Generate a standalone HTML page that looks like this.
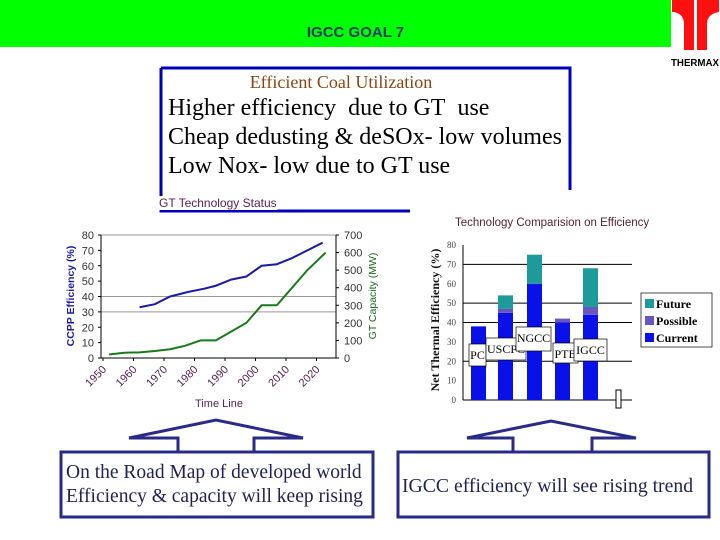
<!DOCTYPE html>
<html><head><meta charset="utf-8"><style>
body{margin:0;width:720px;height:540px;background:#fff;position:relative;overflow:hidden;font-family:"Liberation Sans",sans-serif}
.abs{position:absolute}
.serif{font-family:"Liberation Serif",serif}
</style></head><body>
<div class="abs" style="left:0;top:0;width:671px;height:47px;background:#00ff00"></div>
<div class="abs" style="left:0;top:24px;width:711px;text-align:center;font-weight:bold;font-size:15px;color:#1a3a6a">IGCC GOAL 7</div>
<svg class="abs" style="left:0;top:0" width="720" height="70">
<path d="M672 0H694V50H684V24Q684 14 674 12H672Z" fill="#ff1010"/>
<path d="M697 0H719V12Q707 14 707 24V50H697Z" fill="#ff1010"/>
<text x="695" y="66" font-size="10" font-weight="bold" text-anchor="middle" textLength="48" lengthAdjust="spacingAndGlyphs">THERMAX</text>
</svg>
<svg class="abs" style="left:0;top:0" width="720" height="540">
<path d="M161 68H570V190M161 68V211H410" fill="none" stroke="#0000bb" stroke-width="3"/>
</svg>
<div class="abs serif" style="left:161px;top:72px;width:360px;text-align:center;font-size:18px;color:#8b4513">Efficient Coal Utilization</div>
<div class="abs serif" style="left:168px;top:94px;font-size:24px;line-height:29px;color:#000;white-space:nowrap">Higher efficiency&nbsp; due to GT&nbsp; use<br>Cheap dedusting &amp; deSOx- low volumes<br>Low Nox- low due to GT use</div>
<div class="abs" style="left:159px;top:196px;font-size:12px;color:#552255;background:#fff">GT Technology Status</div>

<svg class="abs" id="lc" style="left:0;top:0" width="720" height="540"></svg>

<svg class="abs" style="left:0;top:0" width="720" height="540">
<path d="M178 452V438H129L216 420L303 438H254V452" fill="none" stroke="#2a2a88" stroke-width="3"/>
<rect x="61" y="452" width="312" height="65" fill="none" stroke="#2a2a88" stroke-width="3"/>
<path d="M513 452V438H467L551 421L636 438H592V452" fill="none" stroke="#2a2a88" stroke-width="3"/>
<rect x="398" y="452" width="311" height="65" fill="none" stroke="#2a2a88" stroke-width="3"/>
</svg>
<div class="abs serif" style="left:66px;top:461px;font-size:19.5px;line-height:24px;color:#222255;white-space:nowrap">On the Road Map of developed world<br>Efficiency &amp; capacity will keep rising</div>
<div class="abs serif" style="left:402px;top:475px;font-size:19.7px;color:#222255;white-space:nowrap">IGCC efficiency will see rising trend</div>

<svg class="abs" id="bc" style="left:0;top:0" width="720" height="540"></svg>

<script>
const NS="http://www.w3.org/2000/svg";
function mk(p,t,a,txt){const e=document.createElementNS(NS,t);for(const k in a)e.setAttribute(k,a[k]);if(txt!==undefined)e.textContent=txt;p.appendChild(e);return e;}

// ---- Line chart data ----
const effYears=[1962,1967,1972,1978,1983,1987,1992,1997,2002,2007,2012,2017,2022];
const effValues=[33,35,40,43,45,47,51,53,60,61,65,70,75];
const capYears=[1952,1957,1962,1967,1972,1977,1982,1987,1992,1997,2002,2007,2012,2017,2023];
const capValues=[20,30,32,40,50,70,100,100,150,200,300,300,400,500,600];
const leftTicks=[0,10,20,30,40,50,60,70,80];
const rightTicks=[0,100,200,300,400,500,600,700];
const yearTicks=[1950,1960,1970,1980,1990,2000,2010,2020];

const lc=document.getElementById('lc');
const X=y=>103+(y-1950)*3.05;
const YL=v=>358-v*(123/80);
const YR=v=>358-v*(123/700);
[30,40,80].forEach(v=>{const g=mk(lc,'line',{x1:101,x2:336,y1:YL(v),y2:YL(v),stroke:'#999','stroke-width':1});

});
mk(lc,'line',{x1:101,x2:101,y1:235,y2:358,stroke:'#000'});
mk(lc,'line',{x1:336,x2:336,y1:235,y2:358,stroke:'#000'});
mk(lc,'line',{x1:101,x2:336,y1:358,y2:358,stroke:'#000'});
leftTicks.forEach(v=>{mk(lc,'line',{x1:98,x2:101,y1:YL(v),y2:YL(v),stroke:'#000'});
const t=mk(lc,'text',{x:94,y:YL(v)+4,'font-size':11,'text-anchor':'end',fill:'#333'},v);

});
rightTicks.forEach(v=>{mk(lc,'line',{x1:336,x2:339,y1:YR(v),y2:YR(v),stroke:'#000'});
const t=mk(lc,'text',{x:344,y:YR(v)+4,'font-size':11,fill:'#333'},v);

});
yearTicks.forEach(y=>{mk(lc,'line',{x1:X(y),x2:X(y),y1:358,y2:361,stroke:'#000'});
const t=mk(lc,'text',{x:X(y)+4,y:370,'font-size':11,'text-anchor':'end',fill:'#552255',transform:`rotate(-45 ${X(y)+4} 370)`},y);

});
const t1=mk(lc,'text',{x:74,y:296,'font-size':10.5,'font-weight':'bold','text-anchor':'middle',fill:'#1a1aa0',transform:'rotate(-90 74 296)'},'CCPP  Efficiency (%)');


const t2=mk(lc,'text',{x:376,y:296,'font-size':10.5,'text-anchor':'middle',fill:'#1a6a1a',transform:'rotate(-90 376 296)'},'GT Capacity (MW)');


const t3=mk(lc,'text',{x:219,y:407,'font-size':11,'text-anchor':'middle',fill:'#552255'},'Time Line');


const pb=mk(lc,'polyline',{points:effYears.map((y,i)=>X(y)+','+YL(effValues[i])).join(' '),fill:'none',stroke:'#1a1aaa','stroke-width':2});


const pg=mk(lc,'polyline',{points:capYears.map((y,i)=>X(y)+','+YR(capValues[i])).join(' '),fill:'none',stroke:'#1a7a1a','stroke-width':2});



// ---- Bar chart data ----
const techs=['PC','USCPC','NGCC','PTB','IGCC'];
const currentVals=[38,45,60,40,44];
const possibleVals=[0,2,0,2,4];
const futureVals=[0,7,15,0,20];
const barTicks=[0,10,20,30,40,50,60,70,80];

const bc=document.getElementById('bc');
const BY=v=>400-v*(155/80);
const bx=[471,498,527,555,583];
const bw=15;
mk(bc,'text',{x:455,y:226,'font-size':11.5,fill:'#552233'},'Technology Comparision on Efficiency');
[20,40,50,70].forEach(v=>{const g=mk(bc,'line',{x1:463,x2:632,y1:BY(v),y2:BY(v),stroke:'#000'});

});
mk(bc,'line',{x1:463,x2:463,y1:245,y2:400,stroke:'#000'});
mk(bc,'line',{x1:463,x2:632,y1:400,y2:400,stroke:'#000'});
barTicks.forEach(v=>{const t=mk(bc,'text',{x:456,y:BY(v)+3,'font-size':9,'text-anchor':'end',fill:'#444','font-family':'Liberation Serif'},v);

});
const yt=mk(bc,'text',{x:439,y:320,'font-size':12,'font-weight':'bold','text-anchor':'middle','font-family':'Liberation Serif',fill:'#111',transform:'rotate(-90 439 320)'},'Net  Thermal  Efficiency  (%)');


techs.forEach((n,i)=>{
 let base=0;
 [[currentVals,'#0a10e8'],[possibleVals,'#6a55c0'],[futureVals,'#1f9a9a']].forEach(([arr,c])=>{
  const v=arr[i]; if(v<=0)return;
  const r=mk(bc,'rect',{x:bx[i],y:BY(base+v),width:bw,height:BY(base)-BY(base+v),fill:c});
  
  
  base+=v;});
});
const labs=[[469,357,'PC',17,20],[486,351,'USCPC',40,20],[516,340,'NGCC',35,22],[553,356,'PTB',25,18],[574,352,'IGCC',33,20]];
labs.forEach(([x,y,s,w,h])=>{mk(bc,'rect',{x:x,y:y-13,width:w,height:h+2,fill:'#fff',stroke:'#000','stroke-width':0.7});
const t=mk(bc,'text',{x:x+w/2,y:y+2,'font-size':12,'text-anchor':'middle','font-family':'Liberation Serif'},s);

});
mk(bc,'rect',{x:616,y:390,width:5,height:18,fill:'#fff',stroke:'#000'});
const lg=mk(bc,'g',{});


mk(lg,'rect',{x:641,y:293,width:71,height:54,fill:'#fff',stroke:'#000','stroke-width':0.7});
[['Future','#1f9a9a'],['Possible','#6a55c0'],['Current','#0a10e8']].forEach(([n,c],i)=>{
 mk(lg,'rect',{x:645,y:299+i*17,width:9,height:9,fill:c});
 mk(lg,'text',{x:656,y:308+i*17,'font-size':12,'font-weight':'bold','font-family':'Liberation Serif'},n);});
</script>
</body></html>
